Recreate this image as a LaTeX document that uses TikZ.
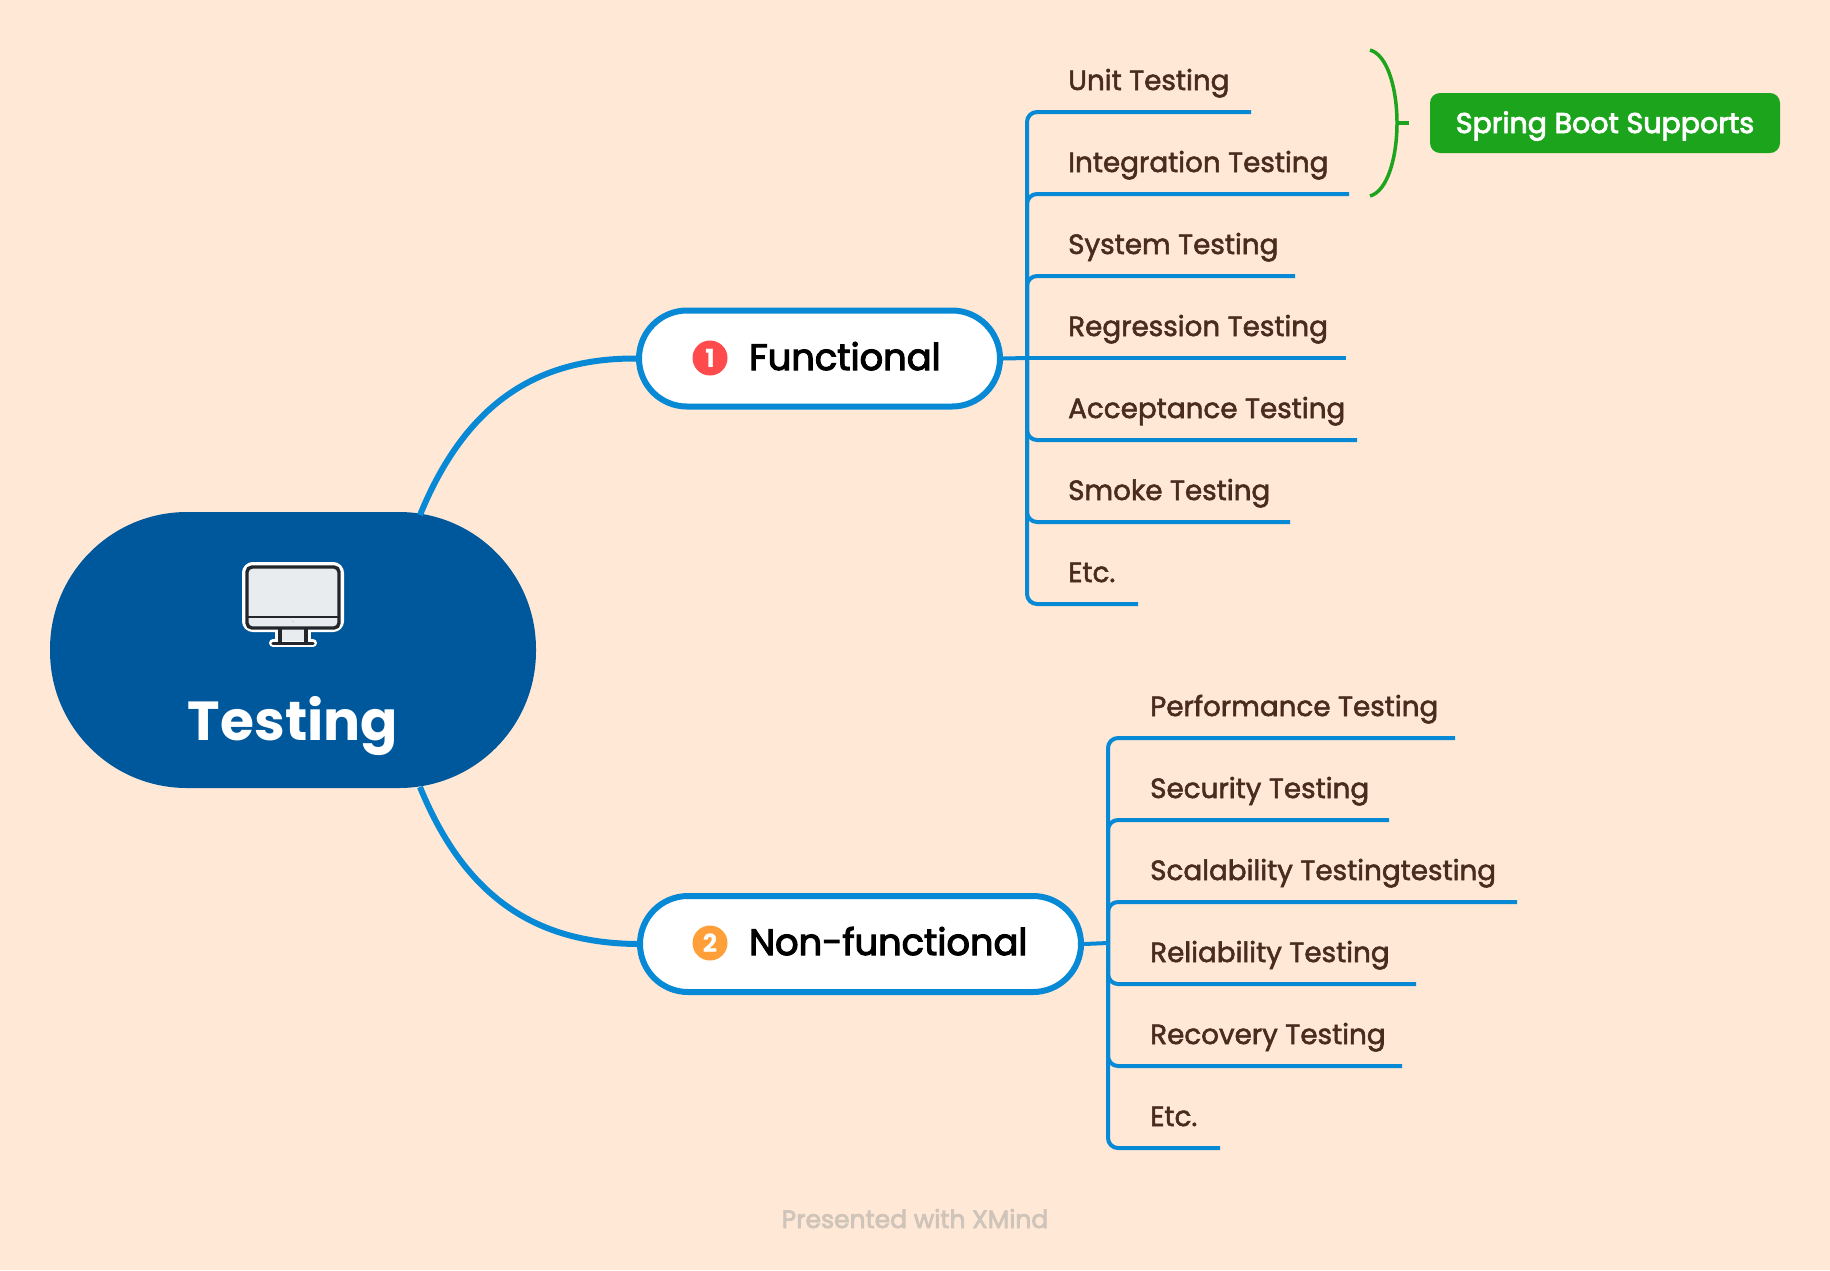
\documentclass[tikz,border=0pt]{standalone}
\usepackage{fontspec}
\setmainfont{Poppins}
\newfontfamily\labfont{Poppins}[RawFeature={embolden=2}]
\newfontfamily\headfont{Poppins}[RawFeature={embolden=3}]
\newfontfamily\sumfont{Poppins}[RawFeature={embolden=3}]
\newfontfamily\boldfont{Poppins Bold}
\definecolor{bgc}{HTML}{FFE8D6}
\definecolor{hubc}{HTML}{00589C}
\definecolor{linec}{HTML}{0789D6}
\definecolor{greenc}{HTML}{1CA51C}
\definecolor{labc}{HTML}{4A2C1E}
\definecolor{redc}{HTML}{FF4B4B}
\definecolor{orangec}{HTML}{FF9F3A}
\definecolor{screenc}{HTML}{E8ECEF}
\definecolor{darkc}{HTML}{23272B}
\definecolor{footc}{HTML}{CFC4BA}
\tikzset{
  hub/.style={fill=hubc,minimum width=486pt,minimum height=276pt,rounded corners=137pt,inner sep=0pt},
  branch/.style={draw=linec,line width=6pt,fill=white,minimum height=96pt,rounded corners=48pt,inner sep=0pt},
  leaf/.style={anchor=base west,text=labc,inner sep=0pt,font=\labfont\fontsize{27.8}{32}\selectfont},
  head/.style={anchor=base west,text=black,inner sep=0pt,font=\headfont\fontsize{36.8}{40}\selectfont},
  badge/.style={circle,minimum size=35pt,inner sep=0pt,text=white,font=\boldfont\fontsize{25}{26}\selectfont},
  conn/.style={draw=linec,line width=6pt},
  sub/.style={draw=linec,line width=4pt,rounded corners=10pt},
}
\begin{document}
\begin{tikzpicture}[x=1pt,y=-1pt]
\useasboundingbox[fill=bgc] (0,0) rectangle (1830,1270);
% main nodes
\node[hub] (hub) at (293,650) {};
\node[branch,minimum width=361pt] (fn) at (819.5,358.5) {};
\node[branch,minimum width=441pt] (nf) at (860.5,944) {};
\coordinate (h1) at (420,515);
\coordinate (h2) at (420,787);
\draw[conn] (h1) .. controls (465,405) and (535,358) .. (fn.west);
\draw[conn] (h2) .. controls (465,897) and (535,943) .. (nf.west);
% monitor icon
\draw[white,line width=8pt,rounded corners=7pt,fill=white] (246,566) rectangle (340,628);
\draw[white,line width=8pt,fill=white,line join=round] (279,628) rectangle (307,640);
\draw[white,line width=8pt,line cap=round] (273,643) -- (313,643);
\draw[screenc,fill=screenc] (281,628) rectangle (305,640);
\draw[darkc,line width=3.4pt,rounded corners=5pt,fill=screenc] (247,567) rectangle (339,628);
\draw[darkc,line width=1.6pt] (247,617) -- (339,617);
\fill[black!15] (293,621.5) circle (1.3pt);
\draw[darkc,line width=3.4pt] (280,628) -- (280,642) (306,628) -- (306,642);
\draw[darkc,line width=3.4pt,line cap=round] (273,643.5) -- (313,643.5);
\node[anchor=base,text=white,inner sep=0pt,font=\boldfont\fontsize{55}{60}\selectfont] (hubt) at (293,740) {Testing};
% badges + headings
\node[badge,fill=redc] (b1) at (710,358) {1};
\node[head] (fnt) at (749,370) {Functional};
\node[badge,fill=orangec] (b2) at (710,943) {2};
\node[head] (nft) at (749,955) {Non-functional};
% junctions
\coordinate (fj) at (1027,358);
\coordinate (nj) at (1108,943);
\draw[sub,rounded corners=0pt] (fn.east) -- (fj);
\draw[sub,rounded corners=0pt] (nf.east) -- (nj);
% functional leaves
\node[leaf] (a1) at (1068,90) {Unit Testing};
\node[leaf] (a2) at (1068,172) {Integration Testing};
\node[leaf] (a3) at (1068,254) {System Testing};
\node[leaf] (a4) at (1068,336) {Regression Testing};
\node[leaf] (a5) at (1068,418) {Acceptance Testing};
\node[leaf] (a6) at (1068,500) {Smoke Testing};
\node[leaf] (a7) at (1068,582) {Etc.};
\coordinate (ae1) at (1251,112);
\coordinate (ae2) at (1349,194);
\coordinate (ae3) at (1295,276);
\coordinate (ae4) at (1346,358);
\coordinate (ae5) at (1357,440);
\coordinate (ae6) at (1290,522);
\coordinate (ae7) at (1138,604);
\foreach \e in {ae1,ae2,ae3,ae5,ae6,ae7} \draw[sub] (fj) |- (\e);
\draw[sub,rounded corners=0pt] (fj) -- (ae4);
% non-functional leaves
\node[leaf] (c1) at (1150,716) {Performance Testing};
\node[leaf] (c2) at (1150,798) {Security Testing};
\node[leaf] (c3) at (1150,880) {Scalability Testingtesting};
\node[leaf] (c4) at (1150,962) {Reliability Testing};
\node[leaf] (c5) at (1150,1044) {Recovery Testing};
\node[leaf] (c6) at (1150,1126) {Etc.};
\coordinate (ce1) at (1455,738);
\coordinate (ce2) at (1389,820);
\coordinate (ce3) at (1517,902);
\coordinate (ce4) at (1416,984);
\coordinate (ce5) at (1402,1066);
\coordinate (ce6) at (1220,1148);
\foreach \e in {ce1,ce2,ce3,ce4,ce5,ce6} \draw[sub] (nj) |- (\e);
% summary
\node[fill=greenc,minimum width=350pt,minimum height=60pt,rounded corners=10pt,inner sep=0pt] (sum) at (1605,123) {};
\node[anchor=base,text=white,inner sep=0pt,font=\sumfont\fontsize{28.5}{32}\selectfont] (sumt) at (1605,133) {Spring Boot Supports};
\coordinate (bt) at (1370,50);
\coordinate (bb) at (1370,196);
\coordinate (bm) at (1397,123);
\coordinate (bk) at (1409,123);
\draw[greenc,line width=3.5pt] (bt) .. controls (1388,55) and (1397,90) .. (bm) .. controls (1397,156) and (1388,191) .. (bb);
\draw[greenc,line width=3.5pt] (bm) -- (bk);
% footer
\node[anchor=base,text=footc,inner sep=0pt,font=\headfont\fontsize{25}{28}\selectfont] (foot) at (915,1228) {Presented with XMind};
\end{tikzpicture}
\end{document}
